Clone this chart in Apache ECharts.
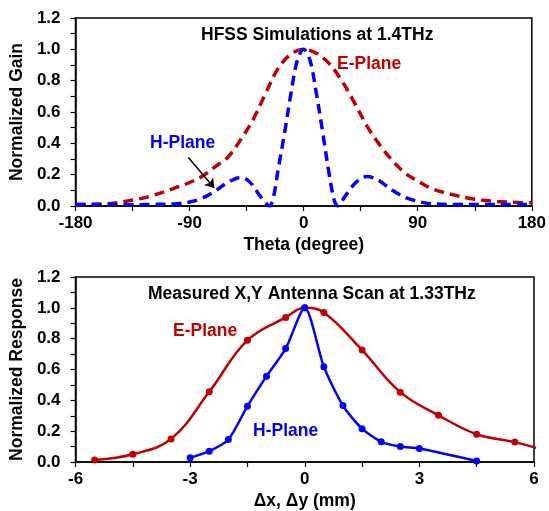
<!DOCTYPE html>
<html>
<head>
<meta charset="utf-8">
<script src="https://cdn.jsdelivr.net/npm/echarts@6/dist/echarts.min.js"></script>
<style>
  html, body { margin: 0; padding: 0; background: #fff; }
  #main { width: 549px; height: 511px; }
</style>
</head>
<body>
<div id="main"></div>
<script>
// top panel: HFSS simulation (theta in degree)
const simETheta = [-180, -170, -160, -150, -140, -130, -120, -110, -100, -90, -80, -70, -60, -50, -40, -30, -20, -10, 0,
  10, 20, 30, 40, 50, 60, 70, 80, 90, 100, 110, 120, 130, 140, 150, 160, 170, 180];
const simEGain = [0.01, 0.01, 0.012, 0.018, 0.03, 0.045, 0.065, 0.09, 0.12, 0.15, 0.19, 0.25, 0.31, 0.42, 0.55, 0.72, 0.88, 0.97, 1.0,
  0.975, 0.91, 0.80, 0.66, 0.51, 0.39, 0.29, 0.21, 0.16, 0.115, 0.088, 0.068, 0.05, 0.038, 0.03, 0.025, 0.022, 0.02];
const simHTheta = [-180, -160, -140, -120, -100, -90, -80, -70, -60, -50, -45, -40, -35, -30, -27, -24, -20, -15, -10, -5, 0,
  5, 10, 15, 20, 24, 27, 30, 35, 40, 45, 50, 55, 60, 70, 80, 90, 100, 120, 140, 160, 180];
const simHGain = [0.01, 0.01, 0.008, 0.01, 0.015, 0.025, 0.05, 0.095, 0.15, 0.18, 0.17, 0.13, 0.07, 0.02, 0.0, 0.05, 0.24, 0.47, 0.72, 0.93, 1.0,
  0.93, 0.72, 0.47, 0.21, 0.04, 0.0, 0.03, 0.09, 0.14, 0.175, 0.188, 0.18, 0.16, 0.10, 0.055, 0.03, 0.015, 0.01, 0.01, 0.01, 0.01];

// bottom panel: measured scan (mm)
const measEPos = [-5.5, -4.5, -3.5, -2.5, -1.5, -0.5, 0, 0.5, 1.5, 2.5, 3.5, 4.5, 5.5, 6.5];
const measEResp = [0.013, 0.05, 0.15, 0.455, 0.79, 0.938, 1.0, 0.97, 0.726, 0.453, 0.303, 0.18, 0.129, 0.06];
const measHPos = [-3, -2.5, -2, -1.5, -1, -0.5, 0, 0.5, 1, 1.5, 2, 2.5, 3, 4.5];
const measHResp = [0.027, 0.07, 0.146, 0.362, 0.557, 0.736, 1.0, 0.618, 0.366, 0.216, 0.131, 0.10, 0.087, 0.006];

const RED = '#C00000';
const BLUE = '#0000FF';
const FONT = 'Arial, "Liberation Sans", sans-serif';
const TXT = 17.5;

function pairs(xs, ys) {
  return xs.map((x, i) => [x, ys[i]]);
}

// last E-plane point lies past the frame, only its line shows
const measEData = pairs(measEPos, measEResp).map(p =>
  p[0] > 6 ? { value: p, symbol: 'none' } : p);

function yAxisOf(gridIndex, name) {
  return {
    type: 'value', gridIndex, min: 0, max: 1.2, interval: 0.2,
    name, nameLocation: 'middle', nameGap: 45,
    nameTextStyle: { fontFamily: FONT, fontWeight: 'bold', fontSize: TXT, color: '#000' },
    axisLine: { show: true, onZero: false, lineStyle: { color: '#000', width: 1.5 } },
    axisTick: { show: true, inside: false, length: 5, lineStyle: { color: '#000', width: 1.2 } },
    minorTick: { show: true, splitNumber: 2, length: 5, lineStyle: { color: '#000', width: 1.2 } },
    splitLine: { show: false },
    axisLabel: {
      fontFamily: FONT, fontWeight: 'bold', fontSize: 17, color: '#000', margin: 15,
      formatter: v => v.toFixed(1)
    }
  };
}

function xAxisOf(gridIndex, min, max, interval, name) {
  return {
    type: 'value', gridIndex, min, max, interval,
    name, nameLocation: 'middle', nameGap: 30,
    nameTextStyle: { fontFamily: FONT, fontWeight: 'bold', fontSize: TXT, color: '#000' },
    axisLine: { show: true, onZero: false, lineStyle: { color: '#000', width: 1.5 } },
    axisTick: { show: true, inside: false, length: 5, lineStyle: { color: '#000', width: 1.2 } },
    minorTick: { show: true, splitNumber: 2, length: 5, lineStyle: { color: '#000', width: 1.2 } },
    splitLine: { show: false },
    axisLabel: { fontFamily: FONT, fontWeight: 'bold', fontSize: 17, color: '#000', margin: 9 }
  };
}

function label(text, x, y, color) {
  return {
    type: 'text', left: x, top: y,
    style: { text, fill: color, font: 'bold ' + TXT + 'px ' + FONT }
  };
}

const chart = echarts.init(document.getElementById('main'), null, { renderer: 'canvas' });
chart.setOption({
  animation: false,
  backgroundColor: '#fff',
  title: [
    { text: 'HFSS Simulations at 1.4THz', left: 196, top: 21,
      textStyle: { fontFamily: FONT, fontWeight: 'bold', fontSize: TXT, color: '#000' } },
    { text: 'Measured X,Y Antenna Scan at 1.33THz', left: 143, top: 280,
      textStyle: { fontFamily: FONT, fontWeight: 'bold', fontSize: TXT, color: '#000' } }
  ],
  grid: [
    { left: 74, top: 18, width: 460, height: 188, show: true, borderColor: '#000', borderWidth: 1.5 },
    { left: 74, top: 277, width: 460, height: 189, show: true, borderColor: '#000', borderWidth: 1.5 }
  ],
  xAxis: [
    xAxisOf(0, -180, 180, 90, 'Theta (degree)'),
    xAxisOf(1, -6, 6, 3, '\u0394x, \u0394y (mm)')
  ],
  yAxis: [
    yAxisOf(0, 'Normalized Gain'),
    yAxisOf(1, 'Normalized Response')
  ],
  graphic: [
    label('E-Plane', 337, 55, RED),
    label('H-Plane', 150, 134, BLUE),
    label('E-Plane', 173, 322, RED),
    label('H-Plane', 253, 422, BLUE)
  ],
  series: [
    {
      name: 'E-Plane sim', type: 'line', xAxisIndex: 0, yAxisIndex: 0,
      data: pairs(simETheta, simEGain), smooth: 0.35,
      showSymbol: false, clip: true,
      lineStyle: { color: RED, width: 3.5, type: [10, 6] }
    },
    {
      name: 'H-Plane sim', type: 'line', xAxisIndex: 0, yAxisIndex: 0,
      data: pairs(simHTheta, simHGain), smooth: 0.35,
      showSymbol: false, clip: true,
      lineStyle: { color: BLUE, width: 3.5, type: [10, 6] },
      markLine: {
        silent: true, symbol: ['none', 'arrow'], symbolSize: 9,
        label: { show: false },
        lineStyle: { color: '#000', width: 1.5, type: 'solid' },
        data: [[{ coord: [-91, 0.31] }, { coord: [-70.5, 0.115] }]]
      }
    },
    {
      name: 'E-Plane meas', type: 'line', xAxisIndex: 1, yAxisIndex: 1,
      data: measEData, smooth: 0.4, clip: true,
      symbol: 'circle', symbolSize: 7,
      itemStyle: { color: RED },
      lineStyle: { color: RED, width: 2.5 }
    },
    {
      name: 'H-Plane meas', type: 'line', xAxisIndex: 1, yAxisIndex: 1,
      data: pairs(measHPos, measHResp), smooth: 0.25, clip: true,
      symbol: 'circle', symbolSize: 7,
      itemStyle: { color: BLUE },
      lineStyle: { color: BLUE, width: 2.5 }
    }
  ]
});
</script>
</body>
</html>
